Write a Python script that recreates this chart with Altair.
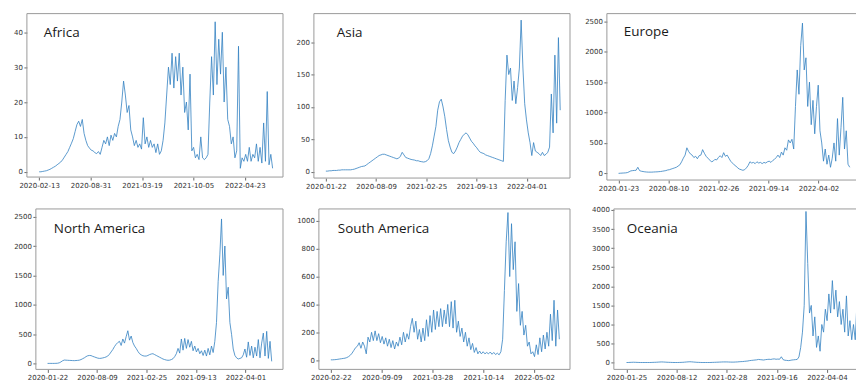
import altair as alt
import pandas as pd
import numpy as np

# ---------------- data (roughly weekly samples) ----------------
africa_start = "2020-02-13"
africa_end_day = 908
africa_vals = [0, 0, 0.1, 0.2, 0.3, 0.5, 0.7, 1.0, 1.3, 1.6,
               2.0, 2.4, 2.8, 3.4, 4.2, 5.0, 5.8, 7.0, 8.2, 9.5,
               11.5, 13.5, 14.5, 13, 15, 11, 9, 7.5, 6.8, 6.2,
               6, 5.5, 5.2, 5.8, 5, 7, 9, 8, 10, 7.5,
               10.5, 9, 11, 10, 13, 15, 20, 26, 22, 17,
               19, 12, 10, 7.5, 9, 7, 8, 6.5, 15.5, 8,
               10, 7, 9, 7, 8, 5.5, 8, 5, 6, 9,
               14, 22, 30, 25, 34, 24, 33, 26, 34, 22,
               30, 17, 20, 12, 28, 6, 7, 4, 5, 3.5,
               10, 4, 3.5, 4, 5, 20, 33, 22, 43, 25,
               38, 28, 40, 20, 30, 15, 13, 8, 10, 4,
               6, 36, 1, 4, 3, 5, 3, 7, 3, 5,
               4, 8, 3, 7, 2.5, 14, 3, 23, 2, 5, 1]

asia_start = "2020-01-22"
asia_end_day = 933
asia_vals = [1, 1, 1.5, 1.5, 2, 2, 2, 2.5, 2.5, 3,
             3, 3, 3, 3, 3, 3.5, 4, 5, 6, 7,
             8, 8.5, 9, 11, 13, 15, 17, 19, 21, 23,
             25, 26, 27, 27, 26, 25, 24, 23, 22, 21,
             20, 21, 24, 30, 26, 22, 21, 20, 19, 18.5,
             18, 17, 17, 16, 15.5, 15, 15.5, 17, 20, 28,
             40, 55, 70, 95, 108, 112, 100, 85, 65, 48,
             38, 30, 28, 32, 38, 45, 50, 55, 58, 60,
             57, 52, 47, 44, 40, 37, 33, 30, 29, 28,
             26, 25, 24, 23, 22, 21, 20, 19, 18, 17,
             16, 110, 180, 150, 160, 110, 140, 105, 130, 160,
             234, 160, 105, 80, 60, 45, 25, 45, 32, 30,
             28, 25, 30, 25, 27, 30, 38, 120, 60, 180,
             75, 207, 95]

europe_start = "2020-01-23"
europe_end_day = 925
europe_vals = [0, 2, 4, 6, 8, 12, 25, 40, 45, 48,
               50, 100, 45, 35, 30, 25, 22, 20, 20, 20,
               22, 24, 25, 28, 30, 35, 40, 45, 55, 60,
               70, 80, 90, 100, 120, 140, 190, 250, 300, 420,
               360, 320, 300, 260, 280, 240, 290, 300, 390, 330,
               280, 250, 220, 190, 200, 230, 220, 260, 290, 260,
               340, 280, 300, 250, 200, 170, 140, 120, 90, 70,
               60, 50, 60, 90, 130, 190, 170, 180, 160, 190,
               170, 180, 160, 180, 170, 190, 200, 180, 210, 230,
               260, 300, 260, 350, 300, 420, 380, 550, 500, 560,
               400, 1100, 1700, 1300, 2100, 2470, 1700, 1900, 1100, 1500,
               800, 1200, 650, 1100, 1450, 700, 500, 200, 400, 150,
               300, 100, 250, 500, 200, 900, 300, 750, 1250, 400,
               700, 150, 100]

north_america_start = "2020-01-22"
north_america_end_day = 906
north_america_vals = [5, 5, 5, 5, 5, 6, 8, 15, 30, 50,
                      62, 60, 58, 56, 55, 53, 52, 54, 56, 60,
                      70, 85, 100, 120, 135, 140, 138, 125, 115, 105,
                      95, 90, 92, 98, 105, 115, 130, 160, 200, 240,
                      290, 330, 360, 380, 310, 420, 350, 460, 560, 400,
                      470, 360, 300, 260, 210, 170, 150, 135, 130, 130,
                      140, 155, 165, 170, 155, 140, 125, 110, 95, 80,
                      70, 62, 58, 60, 70, 85, 120, 170, 260, 180,
                      420, 230, 430, 260, 410, 280, 380, 220, 300, 200,
                      260, 170, 220, 140, 230, 130, 260, 150, 300, 190,
                      380, 700, 1400, 1850, 2460, 1500, 2000, 1100, 1300, 700,
                      500, 250, 140, 100, 80, 90, 100, 150, 250, 110,
                      370, 140, 300, 100, 280, 130, 410, 100, 350, 520,
                      130, 550, 90, 380, 40]

south_america_start = "2020-02-22"
south_america_end_day = 899
south_america_vals = [2, 2, 3, 4, 6, 8, 10, 12, 14, 18,
                      25, 35, 50, 70, 90, 100, 125, 85, 130, 100,
                      45, 165, 130, 200, 140, 210, 140, 190, 125, 170,
                      115, 160, 100, 150, 90, 140, 80, 130, 100, 165,
                      110, 200, 130, 190, 150, 240, 300, 200, 280, 150,
                      220, 130, 230, 140, 290, 170, 320, 200, 360, 220,
                      350, 240, 370, 240, 360, 260, 400, 240, 420, 230,
                      430, 200, 280, 170, 230, 130, 200, 100, 160, 75,
                      120, 55, 90, 45, 65, 45, 60, 45, 55, 45,
                      58, 42, 55, 40, 50, 38, 60, 150, 500, 850,
                      1060, 600, 980, 650, 850, 350, 550, 250, 350, 180,
                      250, 100, 130, 45, 60, 25, 110, 40, 160, 60,
                      180, 80, 200, 100, 330, 140, 430, 100, 360, 150]

oceania_start = "2020-01-25"
oceania_end_day = 927
oceania_vals = [5, 5, 8, 10, 12, 10, 8, 6, 5, 5,
                5, 5, 5, 5, 6, 8, 10, 12, 15, 18,
                20, 18, 15, 12, 10, 8, 6, 5, 5, 5,
                6, 8, 10, 14, 18, 22, 25, 22, 18, 14,
                10, 8, 6, 5, 5, 5, 5, 5, 6, 8,
                10, 12, 14, 16, 18, 20, 20, 20, 18, 16,
                15, 15, 18, 20, 25, 28, 30, 35, 40, 45,
                55, 60, 65, 70, 75, 85, 80, 75, 70, 80,
                85, 90, 85, 95, 100, 90, 95, 90, 155, 80,
                65, 60, 55, 60, 70, 75, 80, 85, 150, 400,
                800, 1500, 3960, 2600, 1300, 1500, 700, 1200, 400, 700,
                300, 1000, 800, 1400, 1100, 1800, 1300, 2150, 1400, 1900,
                1200, 1600, 1000, 1400, 800, 1750, 700, 1100, 600, 1000,
                600, 1600, 1100]

# ---------------- layout / style ----------------
DAY = 86400000
LINE = "#3381c2"
FRAME = "#9a9a9a"


def ms(d):
    return int(pd.Timestamp(d, tz="UTC").value // 10**6)


panels = [
    dict(name="Africa", start=africa_start, end=africa_end_day, vals=africa_vals,
         dom=(-47.7, 948.4), ydom=(-1.51, 45.34), yt=[0, 10, 20, 30, 40],
         w=257, h=164, yext=26, fx=0, yoff=0, push=0, lab=(17, 19), right=True, xext=15),
    dict(name="Asia", start=asia_start, end=asia_end_day, vals=asia_vals,
         dom=(-47.6, 972), ydom=(-9.7, 244), yt=[0, 50, 100, 150, 200],
         w=257, h=165, yext=29, fx=0, yoff=0, push=0, lab=(23, 19), right=True, xext=15),
    dict(name="Europe", start=europe_start, end=europe_end_day, vals=europe_vals,
         dom=(-46.7, 950), ydom=(-110, 2626), yt=[0, 500, 1000, 1500, 2000, 2500],
         w=250, h=167, yext=35, fx=0, yoff=0, push=0, lab=(17, 18), right=False, xext=15),
    dict(name="North America", start=north_america_start, end=north_america_end_day,
         vals=north_america_vals,
         dom=(-83.4, 951.7), ydom=(-96.5, 2630), yt=[0, 500, 1000, 1500, 2000, 2500],
         w=257, h=161, yext=0, fx=9, yoff=-9, push=6, lab=(27, 20), right=True, xext=13),
    dict(name="South America", start=south_america_start, end=south_america_end_day,
         vals=south_america_vals,
         dom=(-47, 941), ydom=(-66.6, 1086), yt=[0, 200, 400, 600, 800, 1000],
         w=252, h=161, yext=34, fx=0, yoff=0, push=0, lab=(19, 20), right=True, xext=13),
    dict(name="Oceania", start=oceania_start, end=oceania_end_day, vals=oceania_vals,
         dom=(-50.5, 916), ydom=(-175, 4026),
         yt=[0, 500, 1000, 1500, 2000, 2500, 3000, 3500, 4000],
         w=243, h=161, yext=42, fx=0, yoff=0, push=0, lab=(13, 20), right=False, xext=13),
]


def make_panel(p):
    t0 = ms(p["start"])
    n = len(p["vals"])
    t = t0 + np.linspace(0, p["end"], n) * DAY
    df = pd.DataFrame({"t": t.astype("int64"), "v": p["vals"]})
    one = pd.DataFrame({"name": [p["name"]]})
    ticks = [t0 + 200 * k * DAY for k in range(5)]
    w, h, fx = p["w"], p["h"], p["fx"]

    yaxis_kw = dict(values=p["yt"], title=None, labelOverlap=False, labelFlush=False,
                    format="d")
    if p["yext"]:
        yaxis_kw.update(minExtent=p["yext"], maxExtent=p["yext"])
    if p["yoff"]:
        yaxis_kw.update(offset=p["yoff"])

    line = alt.Chart(df).mark_line(clip=True, strokeWidth=0.8, color=LINE).encode(
        x=alt.X("t:T",
                scale=alt.Scale(type="utc", domain=[t0 + p["dom"][0] * DAY, t0 + p["dom"][1] * DAY],
                                nice=False),
                axis=alt.Axis(values=ticks, labelExpr="utcFormat(datum.value, '%Y-%m-%d')",
                              title=None, labelFlush=False, labelOverlap=False,
                              minExtent=p["xext"], maxExtent=p["xext"])),
        y=alt.Y("v:Q",
                scale=alt.Scale(domain=list(p["ydom"]), nice=False, zero=False),
                axis=alt.Axis(**yaxis_kw)),
    )
    text = alt.Chart(one).mark_text(align="left", baseline="middle", font="Open Sans",
                                    fontSize=13.5, color="#1a1a1a").encode(
        x=alt.value(p["lab"][0]), y=alt.value(p["lab"][1]), text="name:N")
    rule_style = dict(color=FRAME, strokeWidth=1)
    top = alt.Chart(one).mark_rule(**rule_style).encode(
        x=alt.value(fx), x2=alt.value(w), y=alt.value(0))
    bottom = alt.Chart(one).mark_rule(**rule_style).encode(
        x=alt.value(fx), x2=alt.value(w), y=alt.value(h))
    left = alt.Chart(one).mark_rule(**rule_style).encode(
        x=alt.value(fx), y=alt.value(0), y2=alt.value(h))
    layers = [line, top, bottom, left, text]
    if p["push"]:
        layers.append(alt.Chart(one).mark_rule(strokeOpacity=0, opacity=0).encode(
            x=alt.value(fx), y=alt.value(-p["push"]), y2=alt.value(0)))
    if p["right"]:
        layers.append(alt.Chart(one).mark_rule(**rule_style).encode(
            x=alt.value(w), y=alt.value(0), y2=alt.value(h)))
    return alt.layer(*layers).properties(width=w, height=h)


charts = [make_panel(p) for p in panels]
row1 = alt.hconcat(*charts[:3], spacing=0)
row2 = alt.hconcat(*charts[3:], spacing=0)

chart = alt.vconcat(row1, row2, spacing=6).properties(
    padding={"left": 0, "top": 12, "right": 0, "bottom": 0},
    background="white",
).configure_view(
    stroke="transparent"
).configure_axis(
    labelFont="DejaVu Sans", labelFontSize=7, labelColor="#333333",
    tickColor="#444444", tickSize=3, tickWidth=0.8, labelPadding=1.5,
    domain=False, grid=False,
)

chart.save("out.html", embed_options={"renderer": "svg", "actions": False})
